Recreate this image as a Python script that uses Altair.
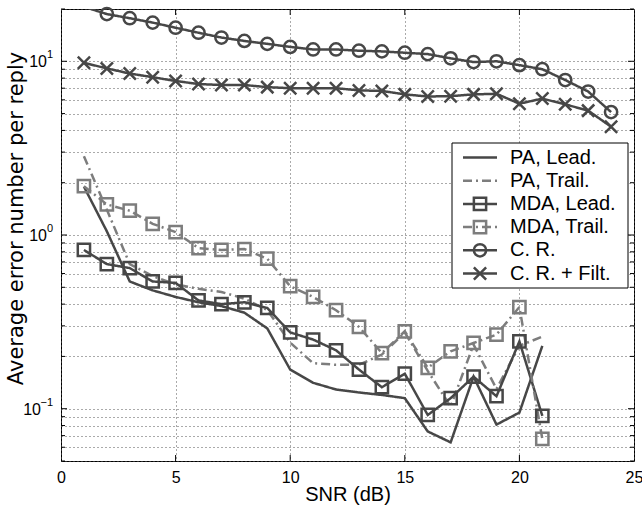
import altair as alt
import pandas as pd

FONT = "Liberation Sans"

# SNR values (dB)
snr_short = list(range(1, 22))
snr_long = list(range(1, 25))

# Average error number per reply for each method
pa_lead = [1.90, 1.05, 0.54, 0.48, 0.44, 0.41, 0.39, 0.357, 0.29, 0.168, 0.141,
           0.129, 0.124, 0.120, 0.115, 0.074, 0.064, 0.153, 0.081, 0.095, 0.23]
pa_trail = [2.84, 1.40, 0.68, 0.58, 0.52, 0.49, 0.47, 0.43, 0.37, 0.24, 0.183,
            0.179, 0.179, 0.205, 0.275, 0.165, 0.103, 0.234, 0.13, 0.23, 0.26]
mda_lead = [0.82, 0.68, 0.645, 0.54, 0.53, 0.42, 0.40, 0.41, 0.38, 0.275, 0.25,
            0.217, 0.168, 0.133, 0.159, 0.092, 0.115, 0.153, 0.118, 0.244, 0.091]
mda_trail = [1.91, 1.50, 1.38, 1.16, 1.04, 0.84, 0.82, 0.83, 0.73, 0.507, 0.44,
             0.369, 0.296, 0.209, 0.279, 0.172, 0.214, 0.239, 0.267, 0.385, 0.067]
cr = [20.6, 18.7, 17.7, 16.7, 15.6, 14.6, 13.7, 13.1, 12.6, 12.1, 11.7, 11.7,
      11.5, 11.4, 11.2, 11.0, 10.4, 9.9, 10.0, 9.5, 9.0, 7.8, 6.7, 5.1]
cr_filt = [9.8, 9.1, 8.5, 8.1, 7.7, 7.4, 7.3, 7.3, 7.1, 7.0, 7.0, 7.0, 6.8,
           6.75, 6.45, 6.27, 6.3, 6.45, 6.5, 5.7, 6.1, 5.65, 5.2, 4.2]

names = ["PA, Lead.", "PA, Trail.", "MDA, Lead.", "MDA, Trail.", "C. R.", "C. R. + Filt."]
colors = ["#474747", "#7d7d7d", "#474747", "#7d7d7d", "#474747", "#474747"]
dashes = [[1, 0], [9, 4, 2, 4], [1, 0], [9, 4, 2, 4], [1, 0], [1, 0]]
x_path = "M-1,-1L1,1M-1,1L1,-1"
shapes = ["circle", "circle", "square", "square", "circle", x_path]
sizes = [150, 150, 145, 145, 150, 150]
marker_series = ["MDA, Lead.", "MDA, Trail.", "C. R.", "C. R. + Filt."]

series_data = [
    (names[0], snr_short, pa_lead),
    (names[1], snr_short, pa_trail),
    (names[2], snr_short, mda_lead),
    (names[3], snr_short, mda_trail),
    (names[4], snr_long, cr),
    (names[5], snr_long, cr_filt),
]
rows = []
for name, xs, ys in series_data:
    for xv, yv in zip(xs, ys):
        rows.append({"series": name, "snr": xv, "err": yv})
df = pd.DataFrame(rows)

W, H = 573, 452
X_SCALE = alt.Scale(domain=[0, 25], nice=False, zero=False)
Y_SCALE = alt.Scale(type="log", domain=[0.05, 20], nice=False)

x_ticks = [0, 5, 10, 15, 20, 25]
y_major = [0.1, 1, 10]
y_grid = [m * 10 ** k for k in (-2, -1, 0, 1) for m in range(1, 10)
          if 0.05 <= m * 10 ** k <= 20]
y_minor = [v for v in y_grid if v not in y_major]

color_enc = alt.Color("series:N", scale=alt.Scale(domain=names, range=colors), legend=None)
dash_enc = alt.StrokeDash("series:N", scale=alt.Scale(domain=names, range=dashes), legend=None)
shape_enc = alt.Shape("series:N", scale=alt.Scale(domain=names, range=shapes), legend=None)
size_enc = alt.Size("series:N", scale=alt.Scale(domain=names, range=sizes), legend=None)

x_axis = alt.Axis(
    values=x_ticks, grid=True, gridDash=[1, 3], gridColor="#555", gridWidth=1,
    ticks=False, domain=False, labelFontSize=16, labelFont=FONT, labelColor="black",
    labelPadding=8, labelFlush=False, title="SNR (dB)", titleFont=FONT,
    titleFontSize=20, titleFontWeight="normal", titleColor="black",
    titleY=33, titleBaseline="middle",
)
y_axis = alt.Axis(
    values=y_grid, grid=True, gridDash=[1, 3], gridColor="#555", gridWidth=1,
    ticks=False, domain=False, labels=False,
    title="Average error number per reply", titleFont="DejaVu Sans", titleFontSize=21,
    titleFontWeight="normal", titleColor="black", titleX=-45, titleY=209,
    titleBaseline="middle",
)

# Every layer on the shared scales uses the same fields and axes so they merge
X_ENC = alt.X("snr:Q", scale=X_SCALE, axis=x_axis)
Y_ENC = alt.Y("err:Q", scale=Y_SCALE, axis=y_axis)

lines = alt.Chart(df).mark_line(strokeWidth=2.5, clip=True).encode(
    x=X_ENC, y=Y_ENC,
    color=color_enc,
    strokeDash=dash_enc,
    detail="series:N",
    order="snr:Q",
)

points = alt.Chart(df).transform_filter(
    alt.FieldOneOfPredicate(field="series", oneOf=marker_series)
).transform_filter("datum.err <= 20").mark_point(
    filled=False, strokeWidth=2.5, opacity=1
).encode(
    x=X_ENC, y=Y_ENC,
    color=color_enc,
    shape=shape_enc,
    size=size_enc,
)

# Inward tick marks on all four sides of the frame
xt = alt.Chart(pd.DataFrame({"snr": x_ticks[1:-1]}))
xt_bottom = xt.mark_rule(color="black", strokeWidth=1).encode(
    x=X_ENC, y=alt.value(H - 6), y2=alt.value(H))
xt_top = xt.mark_rule(color="black", strokeWidth=1).encode(
    x=X_ENC, y=alt.value(0), y2=alt.value(6))

ymaj = alt.Chart(pd.DataFrame({"err": y_major}))
ymin = alt.Chart(pd.DataFrame({"err": y_minor}))
ytick_layers = []
for src, ln in ((ymaj, 6), (ymin, 4)):
    ytick_layers.append(src.mark_rule(color="black", strokeWidth=1).encode(
        y=Y_ENC, x=alt.value(0), x2=alt.value(ln)))
    ytick_layers.append(src.mark_rule(color="black", strokeWidth=1).encode(
        y=Y_ENC, x=alt.value(W - ln), x2=alt.value(W)))

# Power-of-ten labels on the y axis
ylab = alt.Chart(pd.DataFrame({"err": y_major, "e": ["\u22121", "0", "1"]})).transform_calculate(
    xp="-8 - 6 * length(datum.e)")
tens = ylab.mark_text(text="10", align="right", baseline="middle", fontSize=16,
                      font=FONT, color="black", dy=1).encode(
    x=alt.X("xp:Q", scale=None), y=Y_ENC)
exps = ylab.mark_text(align="right", baseline="middle", fontSize=11, font=FONT,
                      color="black", dy=-6).encode(
    x=alt.value(-8), y=Y_ENC, text="e:N")

# Legend box
leg_box = alt.Chart(pd.DataFrame({"k": [0]})).mark_rect(
    fill="white", stroke="black", strokeWidth=1).encode(
    x=alt.value(391), x2=alt.value(567), y=alt.value(134), y2=alt.value(279))
leg = alt.Chart(pd.DataFrame({"series": names, "idx": list(range(len(names)))})).transform_calculate(
    ly="148.5 + 23.2 * datum.idx")
leg_lines = leg.mark_rule(strokeWidth=2.5).encode(
    x=alt.value(402), x2=alt.value(436), y=alt.Y("ly:Q", scale=None),
    color=color_enc, strokeDash=dash_enc)
leg_marks = leg.transform_filter(
    alt.FieldOneOfPredicate(field="series", oneOf=marker_series)
).mark_point(filled=False, strokeWidth=2.5, opacity=1).encode(
    x=alt.value(419), y=alt.Y("ly:Q", scale=None),
    color=color_enc, shape=shape_enc, size=size_enc)
leg_text = leg.mark_text(align="left", baseline="middle", fontSize=20, font=FONT,
                         color="black").encode(
    x=alt.value(449), y=alt.Y("ly:Q", scale=None), text="series:N")

chart = alt.layer(
    lines, points, xt_bottom, xt_top, *ytick_layers, tens, exps,
    leg_box, leg_lines, leg_marks, leg_text,
).properties(
    width=W, height=H,
    autosize=alt.AutoSizeParams(type="none"),
    padding={"left": 61, "top": 9, "right": 8, "bottom": 45},
    background="white",
).configure_view(stroke="black", strokeWidth=1)

chart.save("out.html", embed_options={"renderer": "svg", "actions": False})
